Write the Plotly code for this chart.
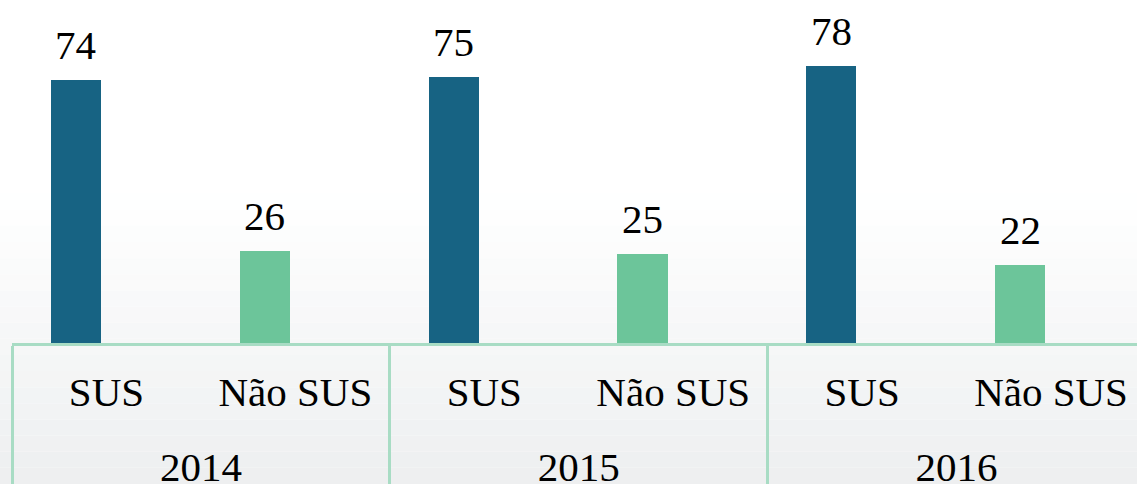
import plotly.graph_objects as go

years = ["2014", "2014", "2015", "2015", "2016", "2016"]
groups = ["SUS", "Não SUS", "SUS", "Não SUS", "SUS", "Não SUS"]
values = [74, 26, 75, 25, 78, 22]
colors = ["#176383", "#6cc59a", "#176383", "#6cc59a", "#176383", "#6cc59a"]

W, H = 1137, 484
ml, mb = 12, 141
bar_w = 0.265
bar_off = -0.295
FONT = "Liberation Serif"
FS = 41

# first-level labels padded with wide non-breaking spaces to add room before the year row
pad = "<span style='font-size:76px'>\u00a0</span>"
groups_lbl = [pad + g + pad for g in groups]

fig = go.Figure()
fig.add_trace(go.Bar(
    x=[years, groups_lbl], y=values, marker=dict(color=colors, line=dict(width=0)),
    width=bar_w, offset=bar_off, hoverinfo="skip"))

for i, v in enumerate(values):
    fig.add_annotation(x=i + bar_off + bar_w / 2, y=v, text=str(v), showarrow=False,
                       yanchor="bottom", yshift=10, xref="x", yref="y",
                       font=dict(family=FONT, size=FS, color="#000000"))

# subtle background gradient
n = 30
plot_h = H - mb
ybot = -mb / plot_h
for k in range(n):
    y0 = 1 - (1 - ybot) * k / n
    y1 = 1 - (1 - ybot) * (k + 1) / n
    t = (k + 0.5) / n
    f = max(0.0, (t - 0.4) / 0.6)
    c = lambda a, b: int(round(a + (b - a) * f))
    col = "rgb(%d,%d,%d)" % (c(255, 237), c(255, 239), c(255, 240))
    fig.add_shape(type="rect", xref="paper", yref="paper", x0=-0.05, x1=1.05, y0=y1, y1=y0,
                  fillcolor=col, line=dict(width=0), layer="below")

fig.update_layout(
    width=W, height=H, margin=dict(l=ml, r=0, t=0, b=mb),
    paper_bgcolor="white", plot_bgcolor="rgba(0,0,0,0)", showlegend=False,
    bargap=0,
    xaxis=dict(type="multicategory", range=[-0.5, 5.455], showline=True, linecolor="#a8dcc4",
               linewidth=3, showgrid=False, ticks="", showdividers=True, tickangle=0,
               dividercolor="#a8dcc4", dividerwidth=3, ticklabelstandoff=11, automargin=False,
               tickfont=dict(family=FONT, size=FS, color="#000000")),
    yaxis=dict(visible=False, range=[0, 96.6], showgrid=False, zeroline=False, automargin=False),
)
fig.write_html("out.html", config={"displayModeBar": False},
               post_script="document.body.style.margin='0';")
